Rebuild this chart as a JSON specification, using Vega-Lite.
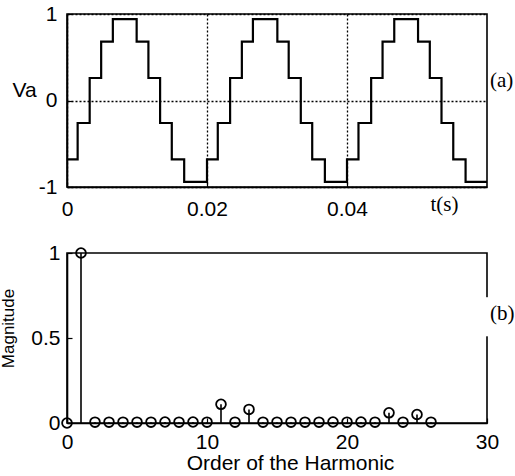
{
  "$schema": "https://vega.github.io/schema/vega-lite/v6.json",
  "background": "white",
  "autosize": {"type": "pad"},
  "padding": {"left": -2, "top": 2, "right": 0, "bottom": 0},
  "spacing": 66,
  "bounds": "flush",
  "config": {
    "view": {"stroke": "black", "strokeWidth": 1.6},
    "axis": {
      "domainColor": "black", "domainWidth": 1.6,
      "tickColor": "black", "tickSize": -5, "tickWidth": 1.2,
      "labelColor": "black", "labelFont": "Liberation Sans", "labelFontSize": 21,
      "titleColor": "black", "titleFont": "Liberation Sans", "titleFontWeight": "normal",
      "labelFlush": false, "labelOverlap": false, "labelBound": false
    }
  },
  "vconcat": [
    {
      "width": 420,
      "height": 173,
      "layer": [
        {
          "data": {"values": [
            {"t": 0, "v": -0.68}, {"t": 0.00152, "v": -0.26}, {"t": 0.00324, "v": 0.26}, {"t": 0.00488, "v": 0.68},
            {"t": 0.00655, "v": 0.94}, {"t": 0.00995, "v": 0.68}, {"t": 0.01163, "v": 0.26}, {"t": 0.0133, "v": -0.26},
            {"t": 0.01497, "v": -0.68}, {"t": 0.01674, "v": -0.94},
            {"t": 0.02, "v": -0.68}, {"t": 0.02154, "v": -0.26}, {"t": 0.0233, "v": 0.26}, {"t": 0.02498, "v": 0.68},
            {"t": 0.02656, "v": 0.94}, {"t": 0.03005, "v": 0.68}, {"t": 0.03167, "v": 0.26}, {"t": 0.0334, "v": -0.26},
            {"t": 0.03503, "v": -0.68}, {"t": 0.03684, "v": -0.94},
            {"t": 0.04, "v": -0.68}, {"t": 0.04164, "v": -0.26}, {"t": 0.04345, "v": 0.26}, {"t": 0.04508, "v": 0.68},
            {"t": 0.04675, "v": 0.94}, {"t": 0.05015, "v": 0.68}, {"t": 0.05183, "v": 0.26}, {"t": 0.0535, "v": -0.26},
            {"t": 0.05518, "v": -0.68}, {"t": 0.05694, "v": -0.94}, {"t": 0.06, "v": -0.94}
          ]},
          "mark": {"type": "line", "interpolate": "step-after", "color": "black", "strokeWidth": 2.2},
          "encoding": {
            "x": {
              "field": "t", "type": "quantitative",
              "scale": {"domain": [0, 0.06], "nice": false, "zero": false},
              "axis": {
                "values": [0, 0.02, 0.04], "format": "~g",
                "grid": true, "gridColor": "black", "gridDash": [2, 2], "gridWidth": 1.3, "gridOpacity": 1,
                "labelPadding": 16,
                "title": "t(s)", "titleFont": "Liberation Serif", "titleFontSize": 21,
                "titleX": 377, "titleY": 23, "titleBaseline": "alphabetic", "titleAlign": "center"
              }
            },
            "y": {
              "field": "v", "type": "quantitative",
              "scale": {"domain": [-1, 1], "nice": false},
              "axis": {
                "values": [-1, 0, 1], "format": "~g",
                "labelExpr": "replace(datum.label, '\u2212', '-')",
                "grid": true, "gridColor": "black", "gridDash": [2, 2], "gridWidth": 1.3, "gridOpacity": 1,
                "labelPadding": 15,
                "title": "Va", "titleAngle": 0, "titleFontSize": 21,
                "titleX": -55, "titleY": 76, "titleAlign": "left", "titleBaseline": "middle"
              }
            }
          }
        },
        {
          "data": {"values": [{"label": "(a)"}]},
          "mark": {"type": "text", "font": "Liberation Serif", "fontSize": 21, "align": "left", "baseline": "middle", "dx": 3, "color": "black"},
          "encoding": {
            "x": {"datum": 0.06, "type": "quantitative"},
            "y": {"datum": 0.22, "type": "quantitative"},
            "text": {"field": "label"}
          }
        }
      ]
    },
    {
      "width": 420,
      "height": 170,
      "layer": [
        {
          "data": {"values": [
            {"n": 0, "m": 0}, {"n": 1, "m": 1}, {"n": 2, "m": 0.005}, {"n": 3, "m": 0.005}, {"n": 4, "m": 0.005},
            {"n": 5, "m": 0.005}, {"n": 6, "m": 0.005}, {"n": 7, "m": 0.006}, {"n": 8, "m": 0.005}, {"n": 9, "m": 0.006},
            {"n": 10, "m": 0.005}, {"n": 11, "m": 0.11}, {"n": 12, "m": 0.005}, {"n": 13, "m": 0.08}, {"n": 14, "m": 0.005},
            {"n": 15, "m": 0.005}, {"n": 16, "m": 0.005}, {"n": 17, "m": 0.005}, {"n": 18, "m": 0.005}, {"n": 19, "m": 0.006},
            {"n": 20, "m": 0.005}, {"n": 21, "m": 0.006}, {"n": 22, "m": 0.005}, {"n": 23, "m": 0.06}, {"n": 24, "m": 0.005},
            {"n": 25, "m": 0.05}, {"n": 26, "m": 0.005}
          ]},
          "layer": [
            {
              "mark": {"type": "rule", "color": "black", "strokeWidth": 1.6},
              "encoding": {
                "x": {
                  "field": "n", "type": "quantitative",
                  "scale": {"domain": [0, 30], "nice": false, "zero": false},
                  "axis": {
                    "values": [0, 10, 20, 30], "grid": false, "labelPadding": 13,
                    "title": "Order of the Harmonic", "titleFontSize": 21,
                    "titleX": 223, "titleY": 46, "titleBaseline": "alphabetic", "titleAlign": "center"
                  }
                },
                "y": {
                  "field": "m", "type": "quantitative",
                  "scale": {"domain": [0, 1], "nice": false},
                  "axis": {
                    "values": [0, 0.5, 1], "format": "~g", "grid": false, "labelPadding": 12,
                    "title": "Magnitude", "titleFontSize": 17, "titleAngle": -90,
                    "titleX": -50, "titleY": 75, "titleAlign": "center", "titleBaseline": "bottom"
                  }
                },
                "y2": {"datum": 0}
              }
            },
            {
              "mark": {"type": "point", "shape": "circle", "filled": false, "color": "black", "size": 95, "strokeWidth": 1.8, "opacity": 1, "clip": false},
              "encoding": {
                "x": {"field": "n", "type": "quantitative"},
                "y": {"field": "m", "type": "quantitative"}
              }
            }
          ]
        },
        {
          "data": {"values": [{"label": "(b)"}]},
          "layer": [
            {
              "mark": {"type": "rule", "color": "white", "strokeWidth": 4},
              "encoding": {
                "x": {"datum": 30, "type": "quantitative"},
                "y": {"datum": 0.51, "type": "quantitative"},
                "y2": {"datum": 0.74}
              }
            },
            {
              "mark": {"type": "text", "font": "Liberation Serif", "fontSize": 21, "align": "left", "baseline": "middle", "dx": 3, "color": "black"},
              "encoding": {
                "x": {"datum": 30, "type": "quantitative"},
                "y": {"datum": 0.64, "type": "quantitative"},
                "text": {"field": "label"}
              }
            }
          ]
        }
      ]
    }
  ]
}
